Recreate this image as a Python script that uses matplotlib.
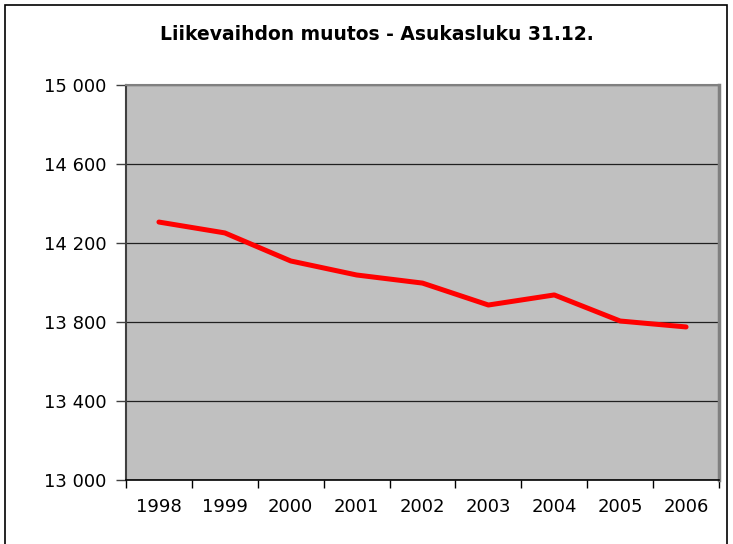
import matplotlib.pyplot as plt
from matplotlib.patches import Rectangle
from matplotlib.ticker import FuncFormatter, FixedLocator

years = ["1998", "1999", "2000", "2001", "2002", "2003", "2004", "2005", "2006"]
asukasluku = [14306, 14251, 14109, 14038, 13997, 13886, 13937, 13805, 13775]

plt.rcParams["font.family"] = ["DejaVu Sans"]

fig = plt.figure(figsize=(7.33, 5.44), dpi=100)
ax = fig.add_axes([0.1719, 0.1176, 0.809, 0.7262])

# koko kuvan reunus
fig.patches.append(Rectangle((5 / 733, -0.1), 722 / 733, 1.1 - 5 / 544,
                             transform=fig.transFigure, fill=False,
                             edgecolor="black", linewidth=1.2))

x = list(range(len(years)))
ax.set_facecolor("#c0c0c0")
ax.plot(x, asukasluku, color="#ff0000", linewidth=3.6, solid_capstyle="round",
        zorder=3)

ax.set_xlim(-0.5, len(years) - 0.5)
ax.set_ylim(13000, 15000)
ax.set_yticks(range(13000, 15001, 400))
ax.yaxis.set_major_formatter(FuncFormatter(lambda v, p: f"{int(v):,}".replace(",", " ")))
ax.yaxis.grid(True, color="#202020", linewidth=0.9)
ax.set_axisbelow(True)

# kategoria-akselin jakoviivat kategorioiden välissä
ax.set_xticks(x)
ax.set_xticklabels(years)
ax.tick_params(axis="x", length=0, pad=13, labelsize=13)
ax.xaxis.set_minor_locator(FixedLocator([i - 0.5 for i in range(len(years) + 1)]))
ax.tick_params(axis="x", which="minor", length=6, width=1, color="black")
ax.tick_params(axis="y", length=7, width=1, color="#404040", labelsize=13, pad=7)

ax.spines["left"].set_color("#404040")
ax.spines["left"].set_linewidth(1.5)
ax.spines["bottom"].set_color("black")
ax.spines["bottom"].set_linewidth(1.2)
ax.spines["top"].set_color("#808080")
ax.spines["top"].set_linewidth(1.5)
ax.spines["right"].set_color("#808080")
ax.spines["right"].set_linewidth(2.5)

fig.text(377 / 733, 1 - 35 / 544, "Liikevaihdon muutos - Asukasluku 31.12.",
         ha="center", va="center", fontsize=13.5, fontweight="bold")

fig.savefig("out.png", dpi=100)
